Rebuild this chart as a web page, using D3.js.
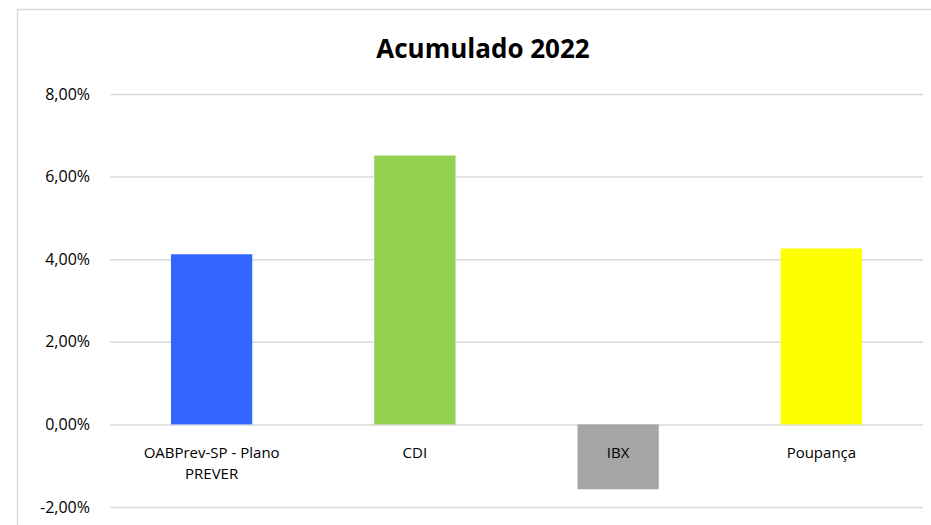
<!DOCTYPE html>
<html>
<head>
<meta charset="utf-8">
<script src="https://cdn.jsdelivr.net/npm/d3@7"></script>
<style>
  body { margin: 0; background: #fff; }
  svg { display: block; }
</style>
</head>
<body>
<script>
// data
var categories = ["OABPrev-SP - Plano PREVER", "CDI", "IBX", "Poupança"];
var values = [4.12, 6.51, -1.57, 4.26];
var colors = ["#3366ff", "#92d050", "#a5a5a5", "#ffff00"];
var yTicks = [-2, 0, 2, 4, 6, 8];
var title = "Acumulado 2022";

var width = 931, height = 525;
var margin = {left: 110, right: 8, top: 94, bottom: 18};

var svg = d3.select("body").append("svg")
    .attr("width", width)
    .attr("height", height);

svg.append("rect")
    .attr("width", width).attr("height", height)
    .attr("fill", "#fff");

// chart area border (runs off the right and bottom edges)
svg.append("rect")
    .attr("x", 17.5).attr("y", 9.5)
    .attr("width", 1000).attr("height", 600)
    .attr("fill", "none")
    .attr("stroke", "#d9d9d9")
    .attr("stroke-width", 1.5);

var x = d3.scaleBand()
    .domain(categories)
    .range([margin.left, width - margin.right])
    .paddingInner(0.6)
    .paddingOuter(0.3);

var y = d3.scaleLinear()
    .domain([-2, 8])
    .range([height - margin.bottom, margin.top]);

// pt-BR style: comma decimal, plain hyphen for minus
var ptBR = d3.formatLocale({decimal: ",", thousands: ".", grouping: [3], currency: ["R$", ""], minus: "-"});
var fmt = function(d) { return ptBR.format(".2f")(d) + "%"; };

// gridlines + tick labels
var yAxis = d3.axisLeft(y)
    .tickValues(yTicks)
    .tickSize(-(width - margin.right - margin.left))
    .tickPadding(20)
    .tickFormat(fmt);

var ga = svg.append("g")
    .attr("transform", "translate(" + margin.left + ",0)")
    .call(yAxis);
ga.select(".domain").remove();
ga.selectAll(".tick line")
    .attr("stroke", "#d9d9d9")
    .attr("stroke-width", 1.5);
ga.selectAll(".tick text")
    .attr("fill", "#000")
    .style("font-family", "'Open Sans', sans-serif")
    .style("font-size", "16px");

// bars
svg.selectAll(".bar")
    .data(values)
    .enter()
    .append("rect")
    .attr("class", "bar")
    .attr("x", function(d, i) { return x(categories[i]); })
    .attr("width", x.bandwidth())
    .attr("y", function(d) { return y(Math.max(0, d)); })
    .attr("height", function(d) { return Math.abs(y(d) - y(0)); })
    .attr("fill", function(d, i) { return colors[i]; });

// category labels, wrapped like Excel
var labelLines = {
    "OABPrev-SP - Plano PREVER": ["OABPrev-SP - Plano", "PREVER"]
};
var lab = svg.selectAll(".cat")
    .data(categories)
    .enter()
    .append("text")
    .attr("class", "cat")
    .attr("text-anchor", "middle")
    .style("font-family", "'Open Sans', sans-serif")
    .style("font-size", "15px")
    .attr("fill", "#000");
lab.each(function(d) {
    var lines = labelLines[d] || [d];
    var t = d3.select(this);
    lines.forEach(function(s, k) {
        t.append("tspan")
            .attr("x", x(d) + x.bandwidth() / 2)
            .attr("y", 458 + k * 21)
            .text(s);
    });
});

svg.append("text")
    .attr("x", 483)
    .attr("y", 58)
    .attr("text-anchor", "middle")
    .style("font-family", "'Open Sans', sans-serif")
    .style("font-weight", "bold")
    .style("font-size", "26px")
    .attr("fill", "#000")
    .text(title);
</script>
</body>
</html>
